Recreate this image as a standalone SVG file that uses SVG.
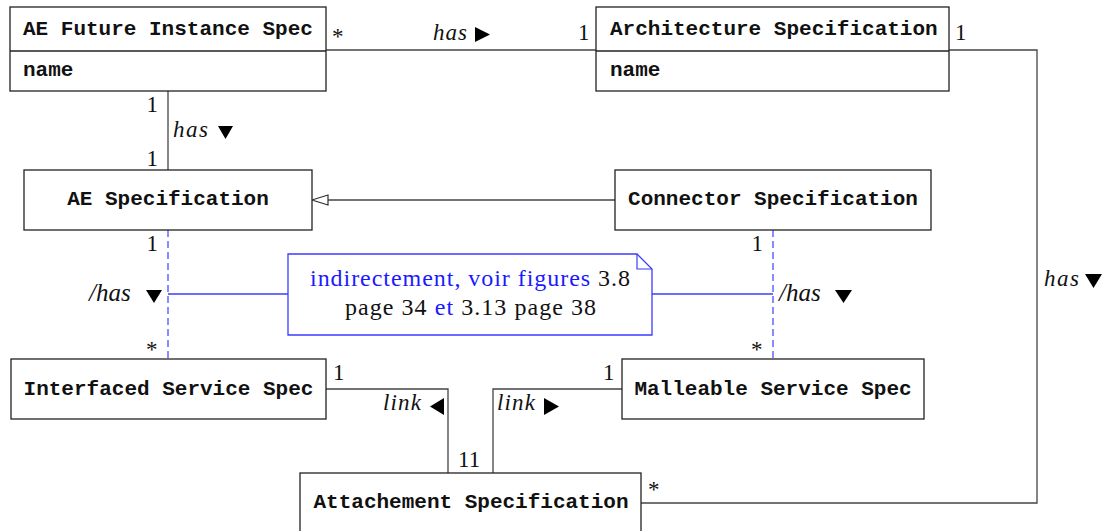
<svg xmlns="http://www.w3.org/2000/svg" width="1109" height="531" viewBox="0 0 1109 531">
<style>
.box{fill:#fff;stroke:#222;stroke-width:1.3}
.cls{font-family:"Liberation Mono",monospace;font-weight:bold;font-size:21px;fill:#111}
.clsm{font-family:"Liberation Mono",monospace;font-weight:bold;font-size:21px;fill:#111;text-anchor:middle}
.ln{fill:none;stroke:#444;stroke-width:1.3}
.dash{fill:none;stroke:#6666ff;stroke-width:1.5;stroke-dasharray:7,4}
.bl{fill:none;stroke:#3b3bff;stroke-width:1.3}
.lbl{font-family:"Liberation Serif",serif;font-size:23px;fill:#111}
.it{font-family:"Liberation Serif",serif;font-style:italic;font-size:23px;fill:#111}
.it2{font-family:"Liberation Serif",serif;font-style:italic;font-size:25px;fill:#111}
.tri{fill:#000}
.note{font-family:"Liberation Serif",serif;font-size:24px;fill:#111;text-anchor:middle}
.blue{fill:#1a1aff}
</style>

<g id="connectors">
  <path class="ln" d="M326,50 H596"/>
  <path class="ln" d="M168,91 V170"/>
  <path class="ln" d="M949,50 H1037 V503 H641"/>
  <path class="ln" d="M615,200 H328"/>
  <polygon points="312,200 328,195 328,205" fill="#fff" stroke="#333" stroke-width="1.2"/>
  <path class="dash" d="M168,230 V359"/>
  <path class="dash" d="M773,230 V359"/>
  <path class="bl" d="M168,294 H288"/>
  <path class="bl" d="M652,294 H773"/>
  <path class="ln" d="M326,389 H448 V473"/>
  <path class="ln" d="M622,389 H493 V473"/>

  <text class="lbl" x="332" y="44">*</text>
  <text class="it" x="433" y="40" textLength="34" lengthAdjust="spacing">has</text>
  <polygon class="tri" points="475,27 490,34.5 475,42"/>
  <text class="lbl" x="578" y="40">1</text>
  <text class="lbl" x="955" y="40">1</text>

  <text class="lbl" x="158" y="112" text-anchor="end">1</text>
  <text class="it" x="173" y="137" textLength="35" lengthAdjust="spacing">has</text>
  <polygon class="tri" points="218,126 233,126 225.5,139"/>
  <text class="lbl" x="158" y="166" text-anchor="end">1</text>

  <text class="lbl" x="158" y="251" text-anchor="end">1</text>
  <text class="it2" x="89" y="301">/has</text>
  <polygon class="tri" points="146,290 162,290 154,303"/>
  <text class="lbl" x="146" y="357">*</text>

  <text class="lbl" x="763" y="251" text-anchor="end">1</text>
  <text class="it2" x="779" y="301">/has</text>
  <polygon class="tri" points="835,290 852,290 843.5,303"/>
  <text class="lbl" x="751" y="357">*</text>

  <text class="lbl" x="333" y="380">1</text>
  <text class="it" x="383" y="410" textLength="38" lengthAdjust="spacing">link</text>
  <polygon class="tri" points="444,398 444,415 430,406.5"/>
  <text class="lbl" x="458" y="467">11</text>
  <text class="it" x="497" y="410" textLength="38" lengthAdjust="spacing">link</text>
  <polygon class="tri" points="544,398 559,406.5 544,415"/>
  <text class="lbl" x="603" y="380">1</text>
  <text class="lbl" x="648" y="497">*</text>

  <text class="it" x="1044" y="286" textLength="35" lengthAdjust="spacing">has</text>
  <polygon class="tri" points="1085,274 1102,274 1093.5,288"/>
</g>

<g id="ae-future-instance-spec">
  <rect class="box" x="10" y="7" width="316" height="84"/>
  <path class="box" d="M10,51 H326"/>
  <text class="cls" x="23" y="35">AE Future Instance Spec</text>
  <text class="cls" x="23" y="76">name</text>
</g>

<g id="architecture-specification">
  <rect class="box" x="596" y="7" width="353" height="84"/>
  <path class="box" d="M596,51 H949"/>
  <text class="cls" x="610" y="35">Architecture Specification</text>
  <text class="cls" x="610" y="76">name</text>
</g>

<g id="ae-specification">
  <rect class="box" x="24" y="170" width="288" height="60"/>
  <text class="clsm" x="168" y="205">AE Specification</text>
</g>

<g id="connector-specification">
  <rect class="box" x="615" y="170" width="316" height="60"/>
  <text class="clsm" x="773" y="205">Connector Specification</text>
</g>

<g id="note">
  <path d="M288,254 H637 L652,269 V335 H288 Z" fill="#fff" stroke="#3b3bff" stroke-width="1.3"/>
  <path d="M637,254 V269 H652" fill="none" stroke="#3b3bff" stroke-width="1.2"/>
  <text class="note" x="470" y="286" textLength="320" lengthAdjust="spacing"><tspan class="blue">indirectement, voir figures</tspan> 3.8</text>
  <text class="note" x="470.5" y="315" textLength="251" lengthAdjust="spacing">page 34 <tspan class="blue">et</tspan> 3.13 page 38</text>
</g>

<g id="interfaced-service-spec">
  <rect class="box" x="11" y="359" width="315" height="60"/>
  <text class="clsm" x="168.5" y="395">Interfaced Service Spec</text>
</g>

<g id="malleable-service-spec">
  <rect class="box" x="622" y="359" width="302" height="60"/>
  <text class="clsm" x="773" y="395">Malleable Service Spec</text>
</g>

<g id="attachement-specification">
  <rect class="box" x="300" y="473" width="341" height="62"/>
  <text class="clsm" x="471" y="508">Attachement Specification</text>
</g>
</svg>
